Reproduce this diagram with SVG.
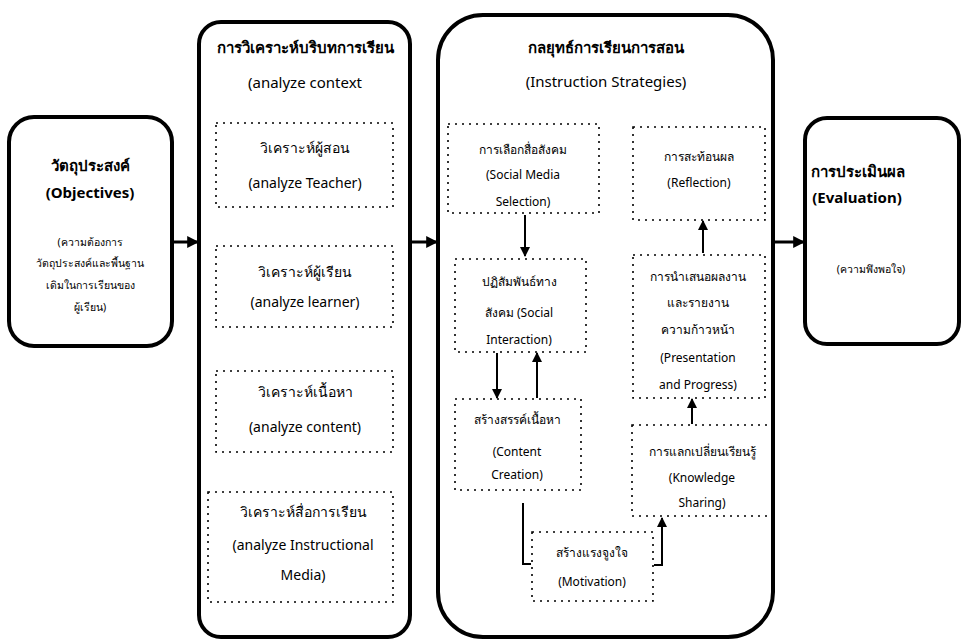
<svg xmlns="http://www.w3.org/2000/svg" width="963" height="643" viewBox="0 0 963 643">
<style>
.main{fill:#fff;stroke:#000;stroke-width:4}
.dot{fill:none;stroke:#000;stroke-width:1.6;stroke-dasharray:2 5}
.t{font-family:"Noto Sans","DejaVu Sans",sans-serif;text-anchor:middle;fill:#000}
.hb{font-size:15px;font-weight:bold}
.hn{font-size:15px;font-weight:normal}
.h{font-size:14px}
.s{font-size:12px}
.xs{font-size:10.5px}
.ln{stroke:#000;stroke-width:3;fill:none}
.ln2{stroke:#000;stroke-width:2;fill:none}
</style>
<defs>
<marker id="ah" viewBox="0 0 10 10" refX="9" refY="5" markerWidth="4" markerHeight="4" orient="auto"><path d="M0 0L10 5L0 10z" fill="#000"/></marker>
<marker id="as" viewBox="0 0 10 10" refX="9" refY="5" markerWidth="5" markerHeight="5" orient="auto"><path d="M0 0L10 5L0 10z" fill="#000"/></marker>
</defs>
<rect width="963" height="643" fill="#fff"/>

<g id="objectives">
<rect class="main" x="9" y="117" width="163" height="229" rx="25"/>
<text class="t hb" x="90" y="171">วัตถุประสงค์</text>
<text class="t hb" x="90" y="198">(Objectives)</text>
<text class="t xs" x="90" y="246">(ความต้องการ</text>
<text class="t xs" x="90" y="267">วัตถุประสงค์และพื้นฐาน</text>
<text class="t xs" x="90" y="289">เดิมในการเรียนของ</text>
<text class="t xs" x="90" y="311">ผู้เรียน)</text>
</g>

<g id="context">
<rect class="main" x="199" y="22" width="211" height="615" rx="22"/>
<text class="t hb" x="305" y="53">การวิเคราะห์บริบทการเรียน</text>
<text class="t hn" x="305" y="88">(analyze  context</text>
</g>

<g id="teacher">
<rect class="dot" x="216" y="123" width="177" height="84"/>
<text class="t h" x="305" y="153">วิเคราะห์ผู้สอน</text>
<text class="t h" x="305" y="188">(analyze  Teacher)</text>
</g>

<g id="learner">
<rect class="dot" x="216" y="246" width="177" height="81"/>
<text class="t h" x="305" y="277">วิเคราะห์ผู้เรียน</text>
<text class="t h" x="305" y="307">(analyze  learner)</text>
</g>

<g id="content">
<rect class="dot" x="216" y="371" width="177" height="81"/>
<text class="t h" x="305" y="397">วิเคราะห์เนื้อหา</text>
<text class="t h" x="305" y="432">(analyze  content)</text>
</g>

<g id="media">
<rect class="dot" x="208" y="492" width="185" height="110"/>
<text class="t h" x="303" y="517">วิเคราะห์สื่อการเรียน</text>
<text class="t h" x="303" y="550">(analyze Instructional</text>
<text class="t h" x="303" y="580">Media)</text>
</g>

<g id="strategies">
<rect class="main" x="438" y="15" width="335" height="622" rx="45"/>
<text class="t hb" x="606" y="53">กลยุทธ์การเรียนการสอน</text>
<text class="t hn" x="606" y="87">(Instruction Strategies)</text>
</g>

<g id="social-media">
<rect class="dot" x="448" y="124" width="151" height="89"/>
<text class="t s" x="523" y="154">การเลือกสื่อสังคม</text>
<text class="t s" x="523" y="179">(Social Media</text>
<text class="t s" x="523" y="206">Selection)</text>
</g>

<g id="reflection">
<rect class="dot" x="633" y="127" width="132" height="93"/>
<text class="t s" x="699" y="161">การสะท้อนผล</text>
<text class="t s" x="699" y="187">(Reflection)</text>
</g>

<g id="interaction">
<rect class="dot" x="455" y="259" width="131" height="93"/>
<text class="t s" x="519" y="286">ปฏิสัมพันธ์ทาง</text>
<text class="t s" x="519" y="317">สังคม (Social</text>
<text class="t s" x="519" y="344">Interaction)</text>
</g>

<g id="presentation">
<rect class="dot" x="633" y="255" width="132" height="143"/>
<text class="t s" x="698" y="281">การนำเสนอผลงาน</text>
<text class="t s" x="698" y="307">และรายงาน</text>
<text class="t s" x="698" y="334">ความก้าวหน้า</text>
<text class="t s" x="698" y="362">(Presentation</text>
<text class="t s" x="698" y="389">and Progress)</text>
</g>

<g id="content-creation">
<rect class="dot" x="455" y="399" width="126" height="91"/>
<text class="t s" x="517" y="424">สร้างสรรค์เนื้อหา</text>
<text class="t s" x="517" y="456">(Content</text>
<text class="t s" x="517" y="479">Creation)</text>
</g>

<g id="knowledge">
<rect class="dot" x="632" y="425" width="141" height="91"/>
<text class="t s" x="702" y="456">การแลกเปลี่ยนเรียนรู้</text>
<text class="t s" x="702" y="482">(Knowledge</text>
<text class="t s" x="702" y="507">Sharing)</text>
</g>

<g id="motivation">
<rect class="dot" x="532" y="532" width="121" height="69"/>
<text class="t s" x="592" y="557">สร้างแรงจูงใจ</text>
<text class="t s" x="592" y="586">(Motivation)</text>
</g>

<g id="evaluation">
<rect class="main" x="805" y="118" width="154" height="226" rx="22"/>
<text class="t hb" x="858" y="177">การประเมินผล</text>
<text class="t hb" x="857" y="203">(Evaluation)</text>
<text class="t xs" x="871" y="273">(ความพึงพอใจ)</text>
</g>

<g id="connectors">
<line class="ln" x1="172" y1="242" x2="198" y2="242" marker-end="url(#ah)"/>
<line class="ln" x1="410" y1="242" x2="437" y2="242" marker-end="url(#ah)"/>
<line class="ln" x1="773" y1="242" x2="804" y2="242" marker-end="url(#ah)"/>
<line class="ln2" x1="525" y1="215" x2="525" y2="256" marker-end="url(#as)"/>
<line class="ln2" x1="703" y1="253" x2="703" y2="221" marker-end="url(#as)"/>
<line class="ln2" x1="497" y1="353" x2="497" y2="398" marker-end="url(#as)"/>
<line class="ln2" x1="537" y1="398" x2="537" y2="353" marker-end="url(#as)"/>
<line class="ln2" x1="692" y1="424" x2="692" y2="399" marker-end="url(#as)"/>
<polyline class="ln2" points="523,503 523,564 531,564"/>
<polyline class="ln2" points="654,565 662,565 662,518" marker-end="url(#as)"/>
</g>
</svg>
